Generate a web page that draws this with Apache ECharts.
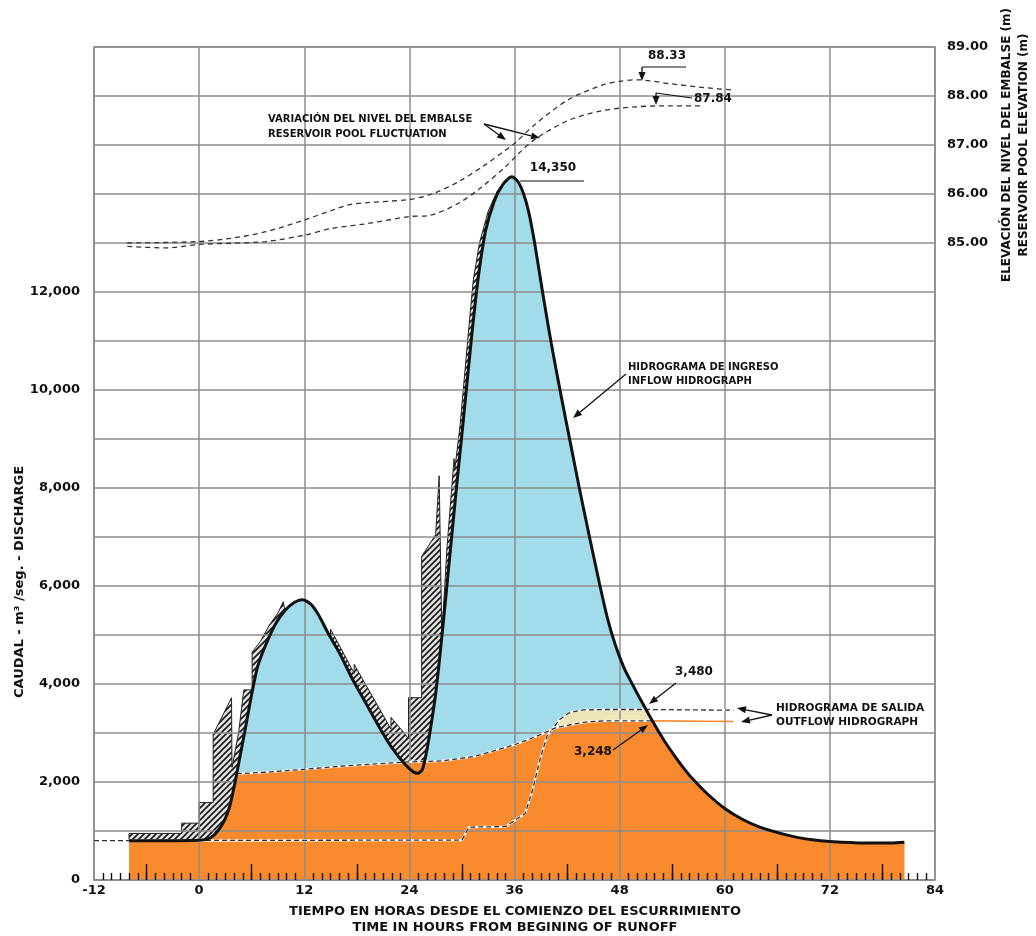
<!DOCTYPE html>
<html><head><meta charset="utf-8">
<script src="https://cdn.jsdelivr.net/npm/echarts/dist/echarts.min.js"></script>
<style>html,body{margin:0;padding:0;background:#fff}#c{width:1036px;height:936px}</style>
</head><body><div id="c"></div>
<script>
// ---------------- DATA ----------------
// Inflow hydrograph (smooth black curve): [hour, m3/s]
const inflow = [
  [-8,800],[-4,800],[0,810],[1,840],[1.6,900],[2.2,1020],[2.75,1170],[3.2,1350],[3.5,1510],[3.8,1740],
  [4.1,1990],[4.6,2460],[5.0,2830],[5.4,3210],[6.0,3790],[6.7,4370],[7.7,4840],[8.8,5250],[9.9,5520],
  [10.9,5670],[11.8,5720],[12.75,5630],[13.7,5390],[14.8,5010],[16,4640],[17.5,4100],[19,3620],
  [20.5,3140],[22,2700],[23.5,2360],[24.5,2200],[25.0,2180],[25.5,2260],[26.0,2650],[26.6,3300],
  [27.0,3800],[27.5,4600],[28.2,5850],[28.8,6950],[29.4,8050],[30.0,9100],[30.5,10000],[31.0,10900],
  [31.5,11750],[32.0,12480],[32.7,13250],[33.7,13860],[34.7,14200],[35.7,14350],[36.4,14250],
  [37.0,14020],[37.6,13650],[38.3,13000],[39.2,12000],[40.2,10950],[41.3,9900],[42.4,8900],
  [43.4,8000],[44.5,7050],[45.7,6050],[46.6,5350],[47.5,4800],[48.5,4330],[49.5,3980],[50.3,3710],
  [51.1,3450],[51.75,3245],[52.5,3015],[53.3,2785],[54.25,2540],[55.2,2310],[56.3,2070],[58.0,1760],
  [60,1460],[62,1240],[64,1080],[67.5,900],[70,820],[72,785],[76,755],[79,755],[80.5,770]
];
// Stepped (hatched) inflow outline: [hour, m3/s]
const hatchTop = [
  [-8,800],[-8,950],[-2,950],[-2,1160],[0,1160],[0,1580],[1.6,1580],[1.6,2970],[3.7,3720],[3.75,2300],
  [4.5,3000],[5.1,3880],[6.05,3880],[6.05,4650],[7.0,4870],[8.0,5200],[9.0,5450],[9.6,5680],[9.8,5500],
  [10.9,5670],[11.8,5720],[12.75,5630],[13.7,5390],[14.8,5010],[15.0,4960],[15.0,5120],[17.7,4220],
  [17.7,4400],[21.9,3080],[21.9,3320],[23.5,2980],[23.9,2880],[23.9,3720],[25.4,3720],[25.4,6600],
  [27.0,7050],[27.4,8250],[27.7,5000],[28.3,6800],[29.1,8600],[29.2,8400],[29.8,9300],[30.3,10300],
  [30.8,11300],[31.3,12250],[32.0,13000],[33.0,13650],[34.0,14050],[35.0,14280],[35.7,14350]
];
// Outflow hydrograph A (upper dashed, peak 3,480)
const outflowA = [
  [-12,805],[-8,805],[30.0,815],[30.8,1080],[35.0,1090],[36.3,1250],[37.2,1350],[38.0,1800],[38.9,2450],
  [39.7,2930],[40.4,3100],[41.2,3280],[42.3,3420],[43.8,3470],[46.4,3480],[51.0,3480],[54,3475],[61,3465]
];
// Outflow hydrograph B (top of orange area, peak 3,248)
const outflowB = [
  [4.3,2170],[7.7,2200],[12,2260],[16.7,2330],[24,2410],[27.7,2430],[31.4,2520],[36,2760],[38.9,2960],
  [40.6,3100],[42.7,3180],[44.5,3230],[46.4,3248],[51.75,3248]
];
const outflowBTail = [[51.75,3248],[61,3235]];
// Reservoir pool elevation (m)
const poolUpper = [
  [-8.2,85.0],[0,85.03],[3.8,85.1],[7.6,85.23],[12,85.47],[15.2,85.67],[17.1,85.78],[19,85.82],[24,85.89],
  [26.6,86.0],[29.6,86.25],[32.7,86.6],[35,86.9],[36,87.03],[38.2,87.4],[42.1,87.92],[46,88.22],[48,88.3],
  [50,88.33],[53.8,88.25],[57.7,88.17],[61.2,88.12]
];
const poolLower = [
  [-8.2,84.93],[-3.8,84.9],[0,84.97],[7.6,85.03],[12,85.16],[15.2,85.3],[19,85.39],[24,85.54],[26.2,85.56],
  [29.6,85.81],[32.3,86.15],[35,86.56],[36.5,86.83],[38.2,87.1],[42.1,87.5],[46,87.7],[49.9,87.78],
  [53.8,87.8],[57.3,87.8]
];
const longTickHours = [-6,6,18,30,42,54,66,78];
const beigeFrom = 40.4, beigeTo = 51.0;

// ---------------- BUILD ----------------
const bStart = outflowB[0][0], bEnd = outflowB[outflowB.length-1][0];
const orangeTop = inflow.filter(p => p[0] < bStart).concat(outflowB, inflow.filter(p => p[0] > bEnd));
const beige = outflowA.filter(p => p[0] >= beigeFrom && p[0] <= beigeTo).concat(inflow.filter(p => p[0] === bEnd));

const hc = document.createElement('canvas');
hc.width = 6; hc.height = 6;
const g = hc.getContext('2d');
g.fillStyle = '#e2e2e2'; g.fillRect(0,0,6,6);
g.strokeStyle = '#151515'; g.lineWidth = 1.6;
g.beginPath(); g.moveTo(-1,7); g.lineTo(7,-1); g.moveTo(-4,4); g.lineTo(4,-4); g.moveTo(2,10); g.lineTo(10,2); g.stroke();

const FONT = '"DejaVu Sans", Arial, sans-serif';
const GRID = '#8c8c8c';
const chart = echarts.init(document.getElementById('c'), null, {renderer: 'canvas'});

function dashed(data, yIdx, z) {
  return [
    {type:'line', data, yAxisIndex:yIdx, showSymbol:false, silent:true, z, lineStyle:{color:'#ffffff', width:2.2}},
    {type:'line', data, yAxisIndex:yIdx, showSymbol:false, silent:true, z:z+0.1, lineStyle:{color:'#333', width:1.3, type:[5,3]}}
  ];
}
function arrow(x1,y1,x2,y2){
  const a = Math.atan2(y2-y1, x2-x1), L = 9, W = 3.5;
  const bx = x2 - L*Math.cos(a), by = y2 - L*Math.sin(a);
  return [
    {type:'line', shape:{x1,y1,x2:bx,y2:by}, style:{stroke:'#111', lineWidth:1.3}, z:100},
    {type:'polygon', shape:{points:[[x2,y2],[bx - W*Math.sin(a), by + W*Math.cos(a)],[bx + W*Math.sin(a), by - W*Math.cos(a)]]}, style:{fill:'#111'}, z:100}
  ];
}
function txt(x,y,text,size,align,rot){
  return {type:'text', x, y, rotation: rot||0, z:100,
    style:{text, font:'bold '+size+'px '+FONT, fill:'#111', align:align||'left', verticalAlign:'middle'}};
}
function seg(x1,y1,x2,y2){ return {type:'line', shape:{x1,y1,x2,y2}, style:{stroke:'#111', lineWidth:1.2}, z:100}; }

const graphics = [
  txt(20,582,'CAUDAL - m³ /seg. - DISCHARGE',13,'center',Math.PI/2),
  txt(1007,145,'ELEVACIÓN DEL NIVEL DEL EMBALSE (m)',12,'center',Math.PI/2),
  txt(1024,145,'RESERVOIR POOL ELEVATION (m)',12,'center',Math.PI/2),
  txt(515,912,'TIEMPO EN HORAS DESDE EL COMIENZO DEL ESCURRIMIENTO',13,'center'),
  txt(515,928,'TIME IN HOURS FROM BEGINING OF RUNOFF',13,'center'),
  txt(268,119,'VARIACIÓN DEL NIVEL DEL EMBALSE',10),
  txt(268,134,'RESERVOIR POOL FLUCTUATION',10),
  ...arrow(484,124,506,140), ...arrow(484,124,540,138),
  txt(553,168,'14,350',12,'center'), seg(520,181,584,181),
  txt(667,56,'88.33',12,'center'), seg(642,67,686,67), ...arrow(642,67,642,81),
  txt(694,99,'87.84',12), seg(692,98,656,93), ...arrow(656,93,656,105),
  txt(628,367,'HIDROGRAMA DE INGRESO',10), txt(628,381,'INFLOW HIDROGRAPH',10),
  ...arrow(626,374,573,418),
  txt(675,672,'3,480',12), ...arrow(676,683,649,704),
  txt(574,752,'3,248',12), ...arrow(613,750,648,725),
  txt(776,708,'HIDROGRAMA DE SALIDA',10.5), txt(776,722,'OUTFLOW HIDROGRAPH',10.5),
  ...arrow(772,715,737,708), ...arrow(772,715,741,722)
];

const option = {
  animation:false,
  backgroundColor:'#fff',
  grid:{left:94,right:101,top:47,bottom:56,show:true,borderColor:GRID,borderWidth:1.5},
  xAxis:[
    {type:'value',min:-12,max:84,interval:12,z:3,
     axisLine:{show:true,lineStyle:{color:GRID,width:1.5}},
     axisTick:{show:false,inside:true},
     minorTick:{show:true,splitNumber:12,length:7,lineStyle:{color:'#111',width:1.4}},
     axisLabel:{color:'#111',fontFamily:FONT,fontWeight:'bold',fontSize:13,margin:4},
     splitLine:{show:true,lineStyle:{color:GRID,width:1.5}}},
    {type:'value',min:-12,max:84,interval:6,position:'bottom',z:3,
     axisLine:{show:false},axisLabel:{show:false},splitLine:{show:false},
     axisTick:{show:true,inside:true,length:16,customValues:longTickHours,lineStyle:{color:'#111',width:1.4}}}
  ],
  yAxis:[
    {type:'value',min:0,max:17000,interval:1000,z:3,
     axisLine:{show:false},axisTick:{show:false},
     axisLabel:{color:'#111',fontFamily:FONT,fontWeight:'bold',fontSize:13,margin:14,
       formatter:v => (v % 2000 === 0 && v <= 12000) ? v.toLocaleString('en-US') : ''},
     splitLine:{show:true,lineStyle:{color:GRID,width:1.5}}},
    {type:'value',min:72,max:89,interval:1,position:'right',
     axisLine:{show:false},axisTick:{show:false},splitLine:{show:false},
     axisLabel:{color:'#111',fontFamily:FONT,fontWeight:'bold',fontSize:13,margin:12,
       formatter:v => v >= 85 ? v.toFixed(2) : ''}}
  ],
  series:[
    {type:'line',data:hatchTop,showSymbol:false,silent:true,z:1,
     lineStyle:{color:'#222',width:1},areaStyle:{color:{image:hc,repeat:'repeat'},opacity:1}},
    {type:'line',data:inflow,smooth:0.25,showSymbol:false,silent:true,z:2,
     lineStyle:{width:0},areaStyle:{color:'#A2DCEA',opacity:1}},
    {type:'line',data:beige,showSymbol:false,silent:true,z:2.1,
     lineStyle:{width:0},areaStyle:{color:'#EEE6B8',opacity:1}},
    {type:'line',data:orangeTop,smooth:0.25,showSymbol:false,silent:true,z:2.2,
     lineStyle:{width:0},areaStyle:{color:'#F98A2E',opacity:1}},
    {type:'line',data:outflowBTail,showSymbol:false,silent:true,z:4,lineStyle:{color:'#F98A2E',width:1.6}},
    ...dashed(outflowA,0,4),
    ...dashed(outflowB,0,4.3),
    {type:'line',data:poolUpper,yAxisIndex:1,smooth:0.3,showSymbol:false,silent:true,z:4,lineStyle:{color:'#333',width:1.3,type:[5,4]}},
    {type:'line',data:poolLower,yAxisIndex:1,smooth:0.3,showSymbol:false,silent:true,z:4,lineStyle:{color:'#333',width:1.3,type:[5,4]}},
    {type:'line',data:inflow,smooth:0.25,showSymbol:false,silent:true,z:5,lineStyle:{color:'#111',width:3}}
  ],
  graphic:graphics
};
chart.setOption(option);
</script>
</body></html>
